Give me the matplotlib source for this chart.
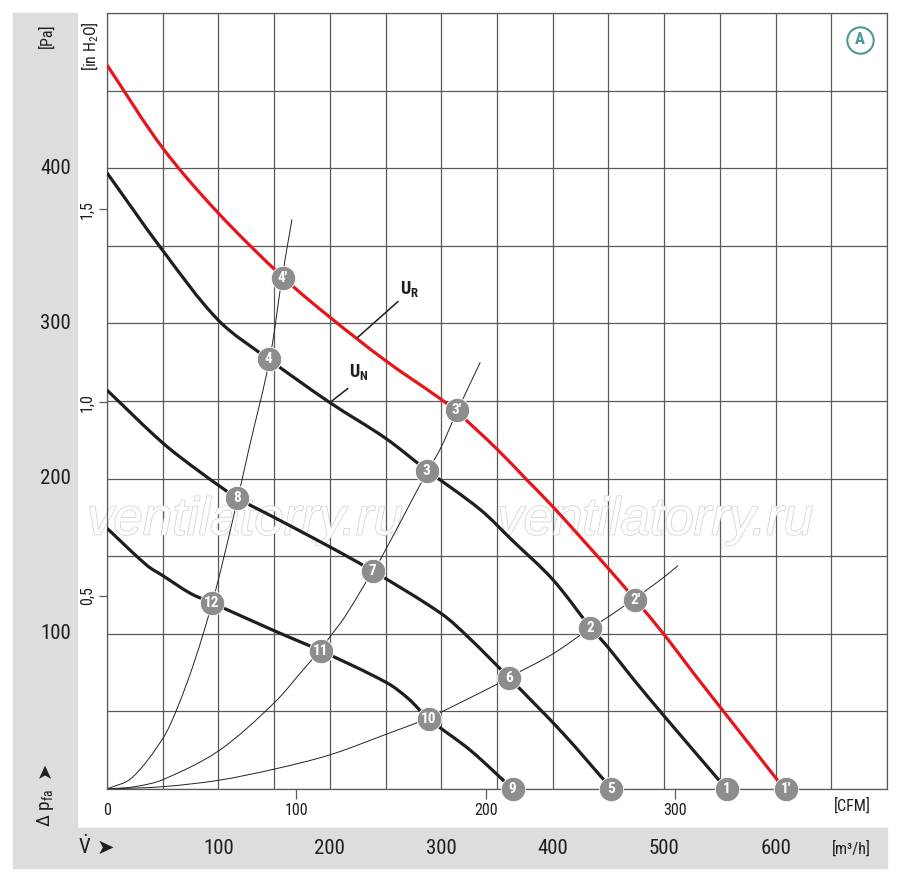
import numpy as np
import matplotlib
matplotlib.use('Agg')
import matplotlib.pyplot as plt
import matplotlib.transforms as mtrans
import matplotlib.patheffects as pe
from matplotlib import font_manager as fm
from matplotlib.patches import Rectangle, PathPatch
from matplotlib.lines import Line2D
from matplotlib.path import Path

# schmale Schrift suchen, sonst normale
narrow = None
for f in fm.fontManager.ttflist:
    if f.name in ('Liberation Sans Narrow', 'Roboto Condensed', 'Open Sans Condensed'):
        narrow = f.name
        break
if narrow is None:
    for f in fm.fontManager.ttflist:
        if f.name in ('DejaVu Sans', 'Noto Sans', 'Roboto', 'Open Sans') and \
                str(f.stretch) in ('condensed', 'semi-condensed'):
            narrow = f.name
            plt.rcParams['font.stretch'] = 'condensed'
            break
if narrow is None:
    narrow = 'Liberation Sans'

plt.rcParams['font.family'] = [narrow, 'DejaVu Sans']
plt.rcParams['mathtext.fontset'] = 'custom'
plt.rcParams['mathtext.rm'] = narrow
plt.rcParams['mathtext.it'] = narrow + ':italic'
plt.rcParams['mathtext.bf'] = narrow + ':bold'

# Luftleistung [m3/h] - Druck [Pa]
ur_q = [0, 50, 100, 159, 200, 250, 300, 314, 350, 377, 400, 450, 474, 500, 526, 550, 608]
ur_p = [466.5, 413, 371, 329, 304, 276, 251, 243, 219, 199, 182, 142, 122, 99.5, 75, 53, 0]

un_q = [0, 50, 100, 145, 200, 250, 286, 335, 364, 400, 434, 450, 471, 500, 556]
un_p = [397, 347, 302, 277, 249, 226, 206, 180, 160, 135, 104, 91, 72, 47, 0]

mid_q = [0, 50, 84, 117, 150, 200, 238.5, 300, 324, 361, 409, 453]
mid_p = [257, 223, 204, 187.5, 175, 156, 140.5, 113, 98, 71.5, 36, 0]

low_q = [0, 36, 50, 75, 94, 150, 192, 251, 270, 289, 326, 364]
low_p = [168, 144, 137.5, 126, 120, 102, 89, 68.5, 58.5, 45, 25, 0]

# Anlagenkennlinien
sysA_q = [0, 22, 50, 63, 77, 88, 94, 100, 117, 127, 146, 157, 166]
sysA_p = [0, 7, 32.5, 52, 79, 104, 119, 135, 186, 218, 277, 329, 367]

sysB_q = [0, 25, 50, 100, 150, 178, 192, 200, 213.5, 238.5, 245, 287, 299, 314, 335]
sysB_p = [0, 1.5, 6, 24.5, 55.5, 78.5, 90, 98, 111, 140.5, 147.5, 204, 219, 243, 275]

sysC_q = [0, 50, 100, 150, 200, 249.5, 289, 350, 361, 400, 433.5, 450, 474, 499, 512.5]
sysC_p = [0, 1.5, 5.6, 12.8, 22, 35, 46, 67.5, 72, 87, 103.5, 111, 123, 136, 144]

# Betriebspunkte
mk_labels = ['1', "1'", '2', "2'", '3', "3'", '4', "4'", '5', '6', '7', '8', '9', '10', '11', '12']
mk_q = [556, 609, 433.5, 474, 287, 314, 145, 158, 452, 361, 238.5, 117, 364, 289, 192, 94]
mk_p = [0, 0, 104, 122, 205, 244, 277, 329, 0, 71.5, 140.5, 187.5, 0, 45, 89, 120]

pa_ticks = [100, 200, 300, 400]
m3h_ticks = [100, 200, 300, 400, 500, 600]
cfm_ticks = [0, 100, 200, 300]
inh2o_ticks = [0.5, 1.0, 1.5]
inh2o_labels = ['0,5', '1,0', '1,5']

W, H = 900, 883
fig = plt.figure(figsize=(W / 100, H / 100), dpi=100)

def fx(px):
    return px / W

def fy(py):
    return 1 - py / H

def glatt(q, p):
    P = np.column_stack([q, p]).astype(float)
    S = np.array([1.1143, 1.552])
    d = np.linalg.norm(np.diff(P * S, axis=0), axis=1)
    n = len(P)
    T = np.zeros_like(P)
    for i in range(n):
        if i == 0:
            T[i] = (P[1] - P[0]) / d[0]
        elif i == n - 1:
            T[i] = (P[-1] - P[-2]) / d[-1]
        else:
            T[i] = (P[i + 1] - P[i - 1]) / (d[i - 1] + d[i])
    verts = [P[0]]
    codes = [Path.MOVETO]
    for i in range(n - 1):
        verts += [P[i] + T[i] * d[i] / 3, P[i + 1] - T[i + 1] * d[i] / 3, P[i + 1]]
        codes += [Path.CURVE4] * 3
    return Path(verts, codes)

# graue Streifen
band = '#dcdddf'
fig.add_artist(Rectangle((fx(13), fy(828)), fx(77) - fx(13), fy(13) - fy(828),
                         transform=fig.transFigure, color=band, zorder=0))
fig.add_artist(Rectangle((fx(13), fy(868)), fx(887) - fx(13), fy(828) - fy(868),
                         transform=fig.transFigure, color=band, zorder=0))

ax = fig.add_axes([fx(107), fy(789), fx(887) - fx(107), fy(13) - fy(789)])
ax.set_xlim(0, 700)
ax.set_ylim(0, 500)
ax.set_xticks(np.arange(0, 701, 50))
ax.set_yticks(np.arange(0, 501, 50))
ax.grid(True, color='#5a5a5a', lw=0.9)
ax.tick_params(length=0, labelbottom=False, labelleft=False)
for s in ax.spines.values():
    s.set_color('#5a5a5a')
    s.set_linewidth(0.9)
ax.set_axisbelow(True)

# Wasserzeichen
for xq in [124, 492]:
    ax.text(xq, 173, 'ventilatorry.ru', family=['Liberation Sans', 'DejaVu Sans'], style='italic',
            fontsize=38, color='white', ha='center', va='center', zorder=1.5,
            path_effects=[pe.Stroke(linewidth=1.1, foreground='#d2d2d2'), pe.Normal()])

# Kennlinien
for q, p in [(sysA_q, sysA_p), (sysB_q, sysB_p), (sysC_q, sysC_p)]:
    ax.add_patch(PathPatch(glatt(q, p), fill=False, edgecolor='#222222', lw=0.7, zorder=2))

for q, p in [(low_q, low_p), (mid_q, mid_p), (un_q, un_p)]:
    ax.add_patch(PathPatch(glatt(q, p), fill=False, edgecolor='#1e1e1e', lw=2.3, zorder=3,
                           capstyle='butt'))
ax.add_patch(PathPatch(glatt(ur_q, ur_p), fill=False, edgecolor='#e8141c', lw=2.3, zorder=3,
                       capstyle='butt'))

# U_N / U_R Bezeichnung
ax.plot([200, 216], [249, 258], color='#1e1e1e', lw=1.1, zorder=3)
ax.text(217, 262, r'$\mathbf{U_N}$', fontsize=13, ha='left', va='bottom', color='#1e1e1e')
ax.plot([225, 261], [291, 314], color='#1e1e1e', lw=1.1, zorder=3)
ax.text(263, 316, r'$\mathbf{U_R}$', fontsize=13, ha='left', va='bottom', color='#1e1e1e')

# Punkte
ax.plot(mk_q, mk_p, 'o', ms=17.5, color='#8d8d8d', mec='white', mew=0.6,
        clip_on=False, zorder=5)
for lab, q, p in zip(mk_labels, mk_q, mk_p):
    ax.text(q, p, lab, color='white', fontsize=11, fontweight='bold',
            ha='center', va='center', zorder=6, clip_on=False)

# CFM Achse
sec = ax.secondary_xaxis('bottom', functions=(lambda q: q / 1.699, lambda c: c * 1.699))
sec.set_xticks(cfm_ticks)
sec.tick_params(direction='out', length=7, width=0.9, color='#5a5a5a', pad=3,
                labelsize=11.5, labelcolor='#1e1e1e')
sec.spines['bottom'].set_visible(False)
sec.xaxis.get_major_ticks()[0].tick1line.set_visible(False)
fig.text(fx(852), fy(806), '[CFM]', fontsize=11.5, ha='center', va='center', color='#1e1e1e')

# in H2O Achse
secy = ax.secondary_yaxis('left', functions=(lambda p: p / 249.09, lambda h: h * 249.09))
secy.set_yticks(inh2o_ticks)
secy.set_yticklabels(inh2o_labels, rotation=90, va='center')
secy.tick_params(direction='out', length=6, width=0.9, color='#5a5a5a', pad=3,
                 labelsize=11.5, labelcolor='#1e1e1e')
secy.spines['left'].set_visible(False)

# Pa Beschriftung im grauen Streifen
tr_y = mtrans.blended_transform_factory(fig.transFigure, ax.transData)
for v in pa_ticks:
    ax.text(fx(71), v, str(v), transform=tr_y, fontsize=15, ha='right', va='center',
            color='#1e1e1e', clip_on=False)

# m3/h Beschriftung im grauen Streifen
tr_x = mtrans.blended_transform_factory(ax.transData, fig.transFigure)
for v in m3h_ticks:
    ax.text(v, fy(848), str(v), transform=tr_x, fontsize=15, ha='center', va='center',
            color='#1e1e1e', clip_on=False)
fig.text(fx(851), fy(849), '[m³/h]', fontsize=11.5, ha='center', va='center', color='#1e1e1e')

fig.text(fx(47), fy(36), '[Pa]', fontsize=11.5, rotation=90, ha='center', va='center',
         color='#1e1e1e')
fig.text(fx(90), fy(46), r'[in H$_2$O]', fontsize=11.5, rotation=90, ha='center',
         va='center', color='#1e1e1e')

fig.text(fx(45), fy(808), r'Δ $\mathrm{p_{fa}}$', fontsize=14, rotation=90,
         ha='center', va='center', color='#1e1e1e')
fig.text(fx(45), fy(770), '➤', family='DejaVu Sans', fontsize=14, rotation=90,
         ha='center', va='center', color='#1e1e1e')
fig.text(fx(85), fy(846), r'$\dot{\mathrm{V}}$', fontsize=15, ha='center', va='center',
         color='#1e1e1e')
fig.text(fx(105), fy(848), '➤', family='DejaVu Sans', fontsize=15, ha='center',
         va='center', color='#1e1e1e')

# Kennzeichen A
fig.add_artist(Line2D([fx(860)], [fy(40)], marker='o', ms=19, mfc='white', mec='#4a9a94',
                      mew=1.5, transform=fig.transFigure))
fig.text(fx(860), fy(40), 'A', fontsize=12, fontweight='bold', color='#4a9a94',
         ha='center', va='center')

fig.savefig('out.png', dpi=100)
